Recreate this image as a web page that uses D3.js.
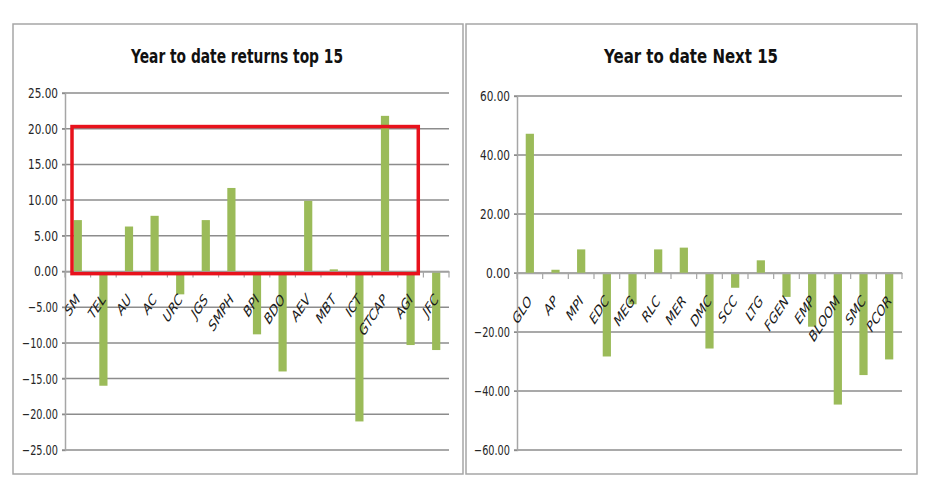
<!DOCTYPE html>
<html><head><meta charset="utf-8">
<script src="https://cdn.jsdelivr.net/npm/d3@7"></script>
<style>
body{margin:0;background:#fff;}
svg text{font-family:"DejaVu Sans",sans-serif;}
</style></head>
<body><svg id="c" width="947" height="492"></svg>
<script>
const leftTitle = "Year to date returns top 15";
const leftCats = ["SM","TEL","AU","AC","URC","JGS","SMPH","BPI","BDO","AEV","MBT","ICT","GTCAP","AGI","JFC"];
const leftVals = [7.2,-16.0,6.3,7.8,-3.2,7.2,11.7,-8.8,-14.0,9.9,0.3,-21.0,21.8,-10.3,-11.0];
const leftTicks = [25,20,15,10,5,0,-5,-10,-15,-20,-25];

const rightTitle = "Year to date Next 15";
const rightCats = ["GLO","AP","MPI","EDC","MEG","RLC","MER","DMC","SCC","LTG","FGEN","EMP","BLOOM","SMC","PCOR"];
const rightVals = [47.2,1.1,8.0,-28.3,-10.6,8.0,8.6,-25.6,-5.0,4.3,-8.1,-18.2,-44.6,-34.6,-29.3];
const rightTicks = [60,40,20,0,-20,-40,-60];

// highlight box (annotation) on left chart: from SM band to AGI band, 0 to 20
const highlightCats = ["SM","AGI"];
const highlightRange = [20.3,-0.3];

const svg = d3.select("#c");
const green = "#9bbb59";
const squeeze = 0.65; // the source screenshot is horizontally compressed

function panel(o){
  const g = svg.append("g");
  g.append("rect").attr("x",o.bx).attr("y",24).attr("width",o.bw).attr("height",450)
    .attr("fill","#fff").attr("stroke","#a6a6a6").attr("stroke-width",1.5);
  g.append("text").attr("x",o.tx).attr("y",63).attr("text-anchor","middle")
    .attr("font-size",19).attr("font-weight","bold").attr("fill","#111")
    .attr("textLength",o.tl).attr("lengthAdjust","spacingAndGlyphs").text(o.title);
  const x = d3.scaleBand().domain(o.cats).range([o.x0,o.x1]).paddingInner(0.68).paddingOuter(0.34);
  const xb = d3.scaleBand().domain(o.cats).range([o.x0,o.x1]);
  const y = d3.scaleLinear().domain([o.ticks[o.ticks.length-1],o.ticks[0]]).range([450,o.ytop]);
  // gridlines
  g.append("g").selectAll("line").data(o.ticks).join("line")
    .attr("x1",o.x0-3).attr("x2",o.x1).attr("y1",d=>y(d)).attr("y2",d=>y(d))
    .attr("stroke","#8c8c8c").attr("stroke-width",1.5);
  // y axis
  const fmt = d3.format(".2f");
  const ya = g.append("g").attr("transform",`translate(${o.x0},0)`)
    .call(d3.axisLeft(y).tickValues(o.ticks).tickFormat(fmt).tickSize(3).tickPadding(4));
  ya.select(".domain").attr("stroke","#a6a6a6").attr("stroke-width",1.5);
  ya.selectAll(".tick line").attr("stroke","#8c8c8c");
  ya.selectAll("text").attr("font-size",14).attr("fill","#262626")
    .style("font-family","'DejaVu Sans',sans-serif")
    .attr("textLength",d=>fmt(d).length*6).attr("lengthAdjust","spacingAndGlyphs");
  // bars
  g.append("g").selectAll("rect").data(o.cats).join("rect")
    .attr("x",d=>x(d)).attr("width",x.bandwidth())
    .attr("y",(d,i)=>y(Math.max(0,o.vals[i])))
    .attr("height",(d,i)=>Math.abs(y(o.vals[i])-y(0)))
    .attr("fill",green);
  // x axis at zero
  const xa = g.append("g").attr("transform",`translate(0,${y(0)})`)
    .call(d3.axisBottom(xb).tickSize(0).tickFormat(""));
  xa.select(".domain").attr("stroke","#a6a6a6").attr("stroke-width",1.5);
  g.append("g").selectAll("line").data(o.cats.concat(["__end"])).join("line")
    .attr("x1",(d,i)=>o.x0+i*xb.step()).attr("x2",(d,i)=>o.x0+i*xb.step())
    .attr("y1",y(0)).attr("y2",y(0)+6).attr("stroke","#a6a6a6").attr("stroke-width",1.2);
  // labels (rotated -45deg, then horizontally squeezed like the source)
  g.append("g").selectAll("text").data(o.cats).join("text")
    .attr("transform",d=>`translate(${xb(d)+xb.bandwidth()/2},${y(0)+25}) scale(${squeeze},1) rotate(-45)`)
    .attr("text-anchor","end").attr("dy","0.35em").attr("font-size",16)
    .attr("fill","#1a1a1a").text(d=>d);
  return {x,xb,y,g};
}

const L = panel({bx:13,bw:450,tx:237,tl:212,title:leftTitle,cats:leftCats,vals:leftVals,ticks:leftTicks,x0:65,x1:449,ytop:93});
panel({bx:466,bw:451,tx:691,tl:174,title:rightTitle,cats:rightCats,vals:rightVals,ticks:rightTicks,x0:517,x1:902,ytop:96});

// red annotation box
const hx0 = L.xb(highlightCats[0])+7;
const hx1 = L.xb(highlightCats[1])+L.xb.step()*0.8;
L.g.append("rect")
  .attr("x",hx0)
  .attr("y",L.y(highlightRange[0]))
  .attr("width",hx1-hx0)
  .attr("height",L.y(highlightRange[1])-L.y(highlightRange[0]))
  .attr("fill","none").attr("stroke","#e8121c").attr("stroke-width",3.5);
</script></body></html>
